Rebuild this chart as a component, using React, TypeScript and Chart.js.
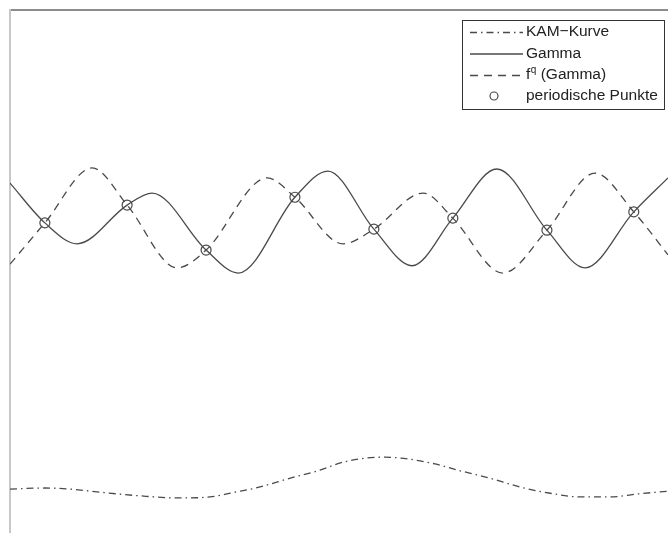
import React, { useEffect, useRef } from 'react';
import { Chart, registerables } from 'chart.js';

Chart.register(...registerables);

// x in [0, 10], y in [0, 10]
const gammaX = [0, 0.53, 1.02, 1.78, 2.16, 2.98, 3.47, 4.33, 4.83, 5.53, 6.11, 6.73, 7.40, 8.16, 8.74, 9.48, 10];
const gammaY = [6.69, 5.93, 5.53, 6.27, 6.50, 5.41, 4.97, 6.42, 6.92, 5.81, 5.11, 6.02, 6.96, 5.79, 5.07, 6.14, 6.79];

const fqX = [0, 0.53, 1.25, 1.78, 2.54, 2.98, 3.91, 4.33, 5.06, 5.53, 6.28, 6.73, 7.49, 8.16, 8.89, 9.48, 10];
const fqY = [5.14, 5.93, 6.98, 6.27, 5.07, 5.41, 6.79, 6.42, 5.53, 5.81, 6.50, 6.02, 4.97, 5.79, 6.88, 6.14, 5.32];

const kamX = [0, 0.53, 0.91, 1.37, 1.98, 2.58, 3.04, 3.42, 3.80, 4.26, 4.71, 5.02, 5.40, 5.70, 6.08, 6.46, 6.84, 7.29, 7.75, 8.21, 8.66, 9.12, 9.57, 10];
const kamY = [0.84, 0.86, 0.84, 0.78, 0.71, 0.67, 0.69, 0.78, 0.88, 1.05, 1.20, 1.34, 1.43, 1.45, 1.41, 1.32, 1.19, 1.05, 0.88, 0.76, 0.69, 0.69, 0.75, 0.80];

const periodX = [0.53, 1.78, 2.98, 4.33, 5.53, 6.73, 8.16, 9.48];
const periodY = [5.93, 6.27, 5.41, 6.42, 5.81, 6.02, 5.79, 6.14];

const seriesLabels = ['KAM−Kurve', 'Gamma', 'f^q (Gamma)', 'periodische Punkte'];

const toPoints = (xs: number[], ys: number[]) => xs.map((x, i) => ({ x, y: ys[i] }));

const LINE_COLOR = '#4a4a4a';
const FONT = '"Liberation Sans", Arial, sans-serif';

const boxLegend = {
  id: 'boxLegend',
  afterDraw(chart: any) {
    const ctx: CanvasRenderingContext2D = chart.ctx;
    const bx = 462, by = 20, bw = 202, bh = 89;
    ctx.save();
    ctx.fillStyle = '#ffffff';
    ctx.fillRect(bx, by, bw, bh);
    ctx.strokeStyle = '#333333';
    ctx.lineWidth = 1;
    ctx.setLineDash([]);
    ctx.strokeRect(bx + 0.5, by + 0.5, bw, bh);
    const rowY = [32, 53.5, 75, 96];
    [0, 1, 2, 3].forEach((di, row) => {
      const ds = chart.data.datasets[di];
      const y = rowY[row];
      ctx.save();
      ctx.strokeStyle = ds.borderColor;
      if (ds.showLine === false) {
        ctx.lineWidth = ds.pointBorderWidth;
        ctx.setLineDash([]);
        ctx.beginPath();
        ctx.arc(494, y, 4, 0, Math.PI * 2);
        ctx.stroke();
      } else {
        ctx.lineWidth = ds.borderWidth;
        ctx.setLineDash(ds.borderDash || []);
        ctx.beginPath();
        ctx.moveTo(470, y + 0.5);
        ctx.lineTo(523, y + 0.5);
        ctx.stroke();
      }
      ctx.restore();
      const label: string = ds.label;
      ctx.fillStyle = '#222222';
      ctx.textBaseline = 'middle';
      ctx.textAlign = 'left';
      const m = label.match(/^(.*?)\^(\S)(.*)$/);
      let x = 526;
      if (m) {
        ctx.font = `15.5px ${FONT}`;
        ctx.fillText(m[1], x, y);
        x += ctx.measureText(m[1]).width + 0.5;
        ctx.font = `10px ${FONT}`;
        ctx.fillText(m[2], x, y - 5);
        x += ctx.measureText(m[2]).width;
        ctx.font = `15.5px ${FONT}`;
        ctx.fillText(m[3], x, y);
      } else {
        ctx.font = `15.5px ${FONT}`;
        ctx.fillText(label, x, y);
      }
    });
    ctx.restore();
  },
};

export default function App() {
  const canvasRef = useRef<HTMLCanvasElement | null>(null);

  useEffect(() => {
    if (!canvasRef.current) return;
    const chart = new Chart(canvasRef.current, {
      type: 'line',
      data: {
        datasets: [
          {
            label: seriesLabels[0],
            data: toPoints(kamX, kamY),
            borderColor: LINE_COLOR,
            borderWidth: 1.3,
            borderDash: [7, 4, 1.5, 4],
            pointRadius: 0,
            cubicInterpolationMode: 'monotone',
            fill: false,
          },
          {
            label: seriesLabels[1],
            data: toPoints(gammaX, gammaY),
            borderColor: LINE_COLOR,
            borderWidth: 1.3,
            pointRadius: 0,
            cubicInterpolationMode: 'monotone',
            fill: false,
          },
          {
            label: seriesLabels[2],
            data: toPoints(fqX, fqY),
            borderColor: LINE_COLOR,
            borderWidth: 1.3,
            borderDash: [8, 6],
            pointRadius: 0,
            cubicInterpolationMode: 'monotone',
            fill: false,
          },
          {
            label: seriesLabels[3],
            data: toPoints(periodX, periodY),
            borderColor: LINE_COLOR,
            showLine: false,
            pointRadius: 5,
            pointBorderWidth: 1.2,
            pointBorderColor: LINE_COLOR,
            pointBackgroundColor: 'rgba(0,0,0,0)',
          },
        ],
      } as any,
      options: {
        animation: false,
        responsive: false,
        devicePixelRatio: 1,
        layout: { autoPadding: false, padding: { left: 10, top: 10, right: 0, bottom: 0 } },
        plugins: {
          legend: { display: false },
          tooltip: { enabled: false },
        },
        scales: {
          x: {
            type: 'linear',
            position: 'top',
            min: 0,
            max: 10,
            grid: { display: false, drawTicks: false },
            ticks: { display: false },
            border: { display: true, color: '#8c8c8c', width: 2 },
          },
          y: {
            type: 'linear',
            min: 0,
            max: 10,
            grid: { display: false, drawTicks: false },
            ticks: { display: false },
            border: { display: true, color: '#c8c8c8', width: 2 },
          },
        },
      } as any,
      plugins: [boxLegend],
    });
    return () => chart.destroy();
  }, []);

  return (
    <div style={{ position: 'absolute', left: 0, top: 0, width: 668, height: 533, background: '#fff' }}>
      <canvas ref={canvasRef} width={668} height={533} style={{ display: 'block', width: 668, height: 533 }} />
    </div>
  );
}
